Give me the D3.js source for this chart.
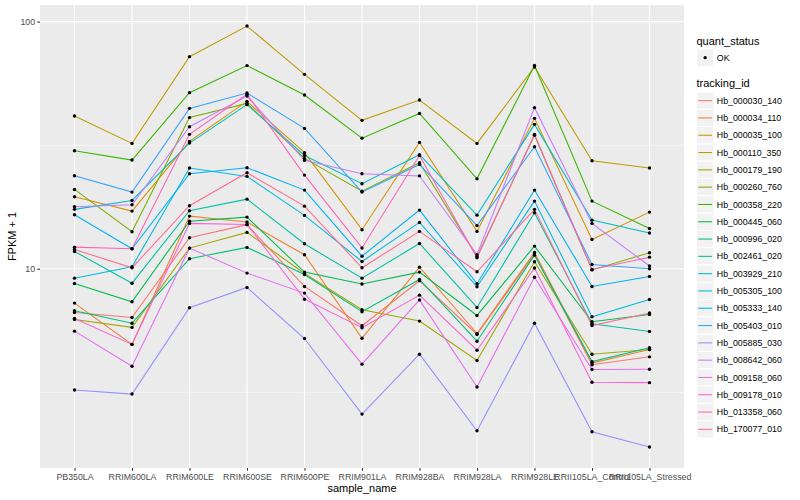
<!DOCTYPE html>
<html>
<head>
<meta charset="utf-8">
<script src="https://cdnjs.cloudflare.com/ajax/libs/d3/7.8.5/d3.min.js"></script>
<style>
  body { margin: 0; background: #ffffff; }
  text { font-family: "Liberation Sans", Arial, sans-serif; }
</style>
</head>
<body>
<div id="chart"></div>
<script>
// x categories and legend entries
var sampleNames = ["PB350LA", "RRIM600LA", "RRIM600LE", "RRIM600SE", "RRIM600PE", "RRIM901LA",
    "RRIM928BA", "RRIM928LA", "RRIM928LE", "RRII105LA_Control", "RRII105LA_Stressed"];
var trackingIds = ["Hb_000030_140", "Hb_000034_110", "Hb_000035_100", "Hb_000110_350", "Hb_000179_190",
    "Hb_000260_760", "Hb_000358_220", "Hb_000445_060", "Hb_000996_020", "Hb_002461_020",
    "Hb_003929_210", "Hb_005305_100", "Hb_005333_140", "Hb_005403_010", "Hb_005885_030",
    "Hb_008642_060", "Hb_009158_060", "Hb_009178_010", "Hb_013358_060", "Hb_170077_010"];
var quantStatus = ["OK"];

// FPKM + 1, one value per sample
var hb_000030_140 = [6.65, 6.35, 13.35, 15.08, 8.48, 5.88, 8.94, 5.42, 11.48, 4.09, 4.40];
var hb_000034_110 = [7.26, 4.94, 16.33, 15.45, 11.39, 5.23, 10.15, 5.47, 11.64, 4.15, 4.71];
var hb_000035_100 = [19.56, 17.11, 32.76, 47.57, 29.48, 14.39, 32.45, 14.16, 40.6, 13.14, 16.95];
var hb_000110_350 = [41.5, 32.16, 72.16, 95.98, 61.18, 39.85, 48.15, 32.16, 65.5, 27.36, 25.55];
var hb_000179_190 = [6.23, 5.79, 12.12, 14.03, 9.57, 6.83, 6.14, 4.25, 10.67, 4.51, 4.71];
var hb_000260_760 = [20.94, 14.12, 40.9, 46.68, 27.96, 20.61, 26.86, 11.19, 34.66, 9.89, 11.61];
var hb_000358_220 = [30.04, 27.53, 51.6, 66.4, 50.45, 33.77, 42.5, 23.11, 66.5, 18.78, 14.54];
var hb_000445_060 = [8.72, 7.35, 15.58, 16.18, 9.69, 8.68, 9.69, 6.47, 12.35, 6.10, 6.53];
var hb_000996_020 = [6.76, 6.02, 10.98, 12.20, 9.48, 6.70, 9.05, 5.09, 11.35, 4.21, 4.79];
var hb_002461_020 = [11.75, 8.74, 17.17, 19.13, 12.62, 9.16, 12.65, 6.97, 16.85, 5.99, 5.57];
var hb_003929_210 = [17.39, 18.90, 32.25, 46.13, 28.74, 22.09, 28.93, 16.48, 38.4, 15.73, 13.96];
var hb_005305_100 = [9.16, 10.19, 25.55, 23.64, 16.44, 10.70, 15.40, 8.46, 18.78, 6.39, 7.51];
var hb_005333_140 = [16.54, 12.05, 24.25, 25.64, 20.81, 11.24, 17.27, 8.70, 20.81, 8.48, 9.31];
var hb_005403_010 = [23.79, 20.42, 44.57, 51.4, 36.98, 20.42, 26.44, 14.95, 31.18, 10.41, 10.0];
var hb_005885_030 = [3.23, 3.11, 6.95, 8.40, 5.22, 2.58, 4.51, 2.21, 6.02, 2.19, 1.90];
var hb_008642_060 = [17.82, 18.16, 37.57, 49.99, 27.45, 24.25, 23.75, 11.40, 44.86, 15.26, 10.26];
var hb_009158_060 = [5.59, 4.03, 12.12, 9.60, 7.97, 4.11, 7.48, 3.32, 9.24, 3.91, 3.92];
var hb_009178_010 = [6.29, 4.94, 15.26, 15.1, 7.53, 5.77, 7.82, 4.68, 10.07, 3.47, 3.46];
var hb_013358_060 = [12.23, 12.05, 34.98, 50.79, 23.93, 12.14, 28.74, 11.08, 34.98, 9.93, 11.14];
var hb_170077_010 = [11.97, 10.09, 17.99, 24.47, 17.92, 10.09, 14.16, 9.72, 17.39, 5.89, 6.62];

var seriesValues = [hb_000030_140, hb_000034_110, hb_000035_100, hb_000110_350, hb_000179_190,
    hb_000260_760, hb_000358_220, hb_000445_060, hb_000996_020, hb_002461_020,
    hb_003929_210, hb_005305_100, hb_005333_140, hb_005403_010, hb_005885_030,
    hb_008642_060, hb_009158_060, hb_009178_010, hb_013358_060, hb_170077_010];

// ggplot default hue palette for 20 groups
var hueColors = ["#F8766D", "#EA8331", "#D89000", "#C09B00", "#A3A500", "#7CAE00", "#39B600",
    "#00BB4E", "#00BF7D", "#00C1A3", "#00BFC4", "#00BAE0", "#00B0F6", "#35A2FF", "#9590FF",
    "#C77CFF", "#E76BF3", "#FA62DB", "#FF62BC", "#FF6C91"];

function draw() {
    var width = 800, height = 500;
    var panel = { left: 40, right: 684, top: 5, bottom: 468 };

    var series = trackingIds.map(function(id, i) {
        return {
            id: id,
            color: hueColors[i],
            points: sampleNames.map(function(s, j) { return { sample: s, value: seriesValues[i][j] }; })
        };
    });

    // log scale with 5% expansion like ggplot
    var all = d3.merge(seriesValues);
    var lo = Math.log10(d3.min(all)), hi = Math.log10(d3.max(all));
    var pad = (hi - lo) * 0.05;

    var x = d3.scalePoint()
        .domain(sampleNames)
        .range([panel.left, panel.right])
        .padding(0.6);
    var y = d3.scaleLog()
        .domain([Math.pow(10, lo - pad), Math.pow(10, hi + pad)])
        .range([panel.bottom, panel.top]);

    var svg = d3.select("#chart")
      .append("svg")
        .attr("width", width)
        .attr("height", height)
        .style("background-color", "#ffffff");

    svg.append("rect")
        .attr("x", panel.left)
        .attr("y", panel.top)
        .attr("width", panel.right - panel.left)
        .attr("height", panel.bottom - panel.top)
        .attr("fill", "#EBEBEB");

    var minorBreaks = [Math.sqrt(10), Math.sqrt(1000)];
    var majorBreaks = [10, 100];

    svg.selectAll("line.minor")
        .data(minorBreaks)
      .enter().append("line")
        .attr("class", "minor")
        .attr("x1", panel.left).attr("x2", panel.right)
        .attr("y1", function(d) { return y(d); })
        .attr("y2", function(d) { return y(d); })
        .attr("stroke", "#ffffff")
        .attr("stroke-width", 0.55);

    svg.selectAll("line.major")
        .data(majorBreaks)
      .enter().append("line")
        .attr("class", "major")
        .attr("x1", panel.left).attr("x2", panel.right)
        .attr("y1", function(d) { return y(d); })
        .attr("y2", function(d) { return y(d); })
        .attr("stroke", "#ffffff")
        .attr("stroke-width", 1.1);

    svg.selectAll("line.vgrid")
        .data(sampleNames)
      .enter().append("line")
        .attr("class", "vgrid")
        .attr("x1", function(d) { return x(d); })
        .attr("x2", function(d) { return x(d); })
        .attr("y1", panel.top).attr("y2", panel.bottom)
        .attr("stroke", "#ffffff")
        .attr("stroke-width", 1.1);

    // axes
    var yAxis = d3.axisLeft(y)
        .tickValues(majorBreaks)
        .tickFormat(d3.format("d"))
        .tickSize(2.75)
        .tickPadding(2.2);
    var gy = svg.append("g")
        .attr("transform", "translate(" + panel.left + ",0)")
        .call(yAxis);

    var xAxis = d3.axisBottom(x)
        .tickSize(2.75)
        .tickPadding(3);
    var gx = svg.append("g")
        .attr("transform", "translate(0," + panel.bottom + ")")
        .call(xAxis);

    [gx, gy].forEach(function(g) {
        g.select(".domain").remove();
        g.selectAll(".tick line").attr("stroke", "#333333").attr("stroke-width", 1.07);
        g.selectAll(".tick text")
            .attr("fill", "#4D4D4D")
            .style("font-size", "8.8px")
            .style("font-family", "'Liberation Sans', Arial, sans-serif");
    });

    svg.append("text")
        .attr("x", (panel.left + panel.right) / 2)
        .attr("y", 492)
        .attr("text-anchor", "middle")
        .style("font-size", "11px")
        .attr("fill", "#000000")
        .text("sample_name");

    svg.append("text")
        .attr("transform", "translate(16," + ((panel.top + panel.bottom) / 2) + ") rotate(-90)")
        .attr("text-anchor", "middle")
        .style("font-size", "11px")
        .attr("fill", "#000000")
        .text("FPKM + 1");

    // lines
    var line = d3.line()
        .x(function(d) { return x(d.sample); })
        .y(function(d) { return y(d.value); });

    svg.selectAll("path.series")
        .data(series)
      .enter().append("path")
        .attr("class", "series")
        .attr("d", function(d) { return line(d.points); })
        .attr("fill", "none")
        .attr("stroke", function(d) { return d.color; })
        .attr("stroke-width", 1.07);

    // points
    svg.selectAll("g.dots")
        .data(series)
      .enter().append("g")
        .attr("class", "dots")
      .selectAll("circle")
        .data(function(d) { return d.points; })
      .enter().append("circle")
        .attr("r", 1.7)
        .attr("cx", function(d) { return x(d.sample); })
        .attr("cy", function(d) { return y(d.value); })
        .attr("fill", "#000000");

    // legends
    var lx = 696.5, keySize = 17.3;
    var legend = svg.append("g");

    legend.append("text")
        .attr("x", lx).attr("y", 44.5)
        .style("font-size", "11px")
        .text("quant_status");

    quantStatus.forEach(function(q, i) {
        var ky = 49 + i * keySize;
        legend.append("rect")
            .attr("x", lx).attr("y", ky)
            .attr("width", keySize).attr("height", keySize)
            .attr("fill", "#F2F2F2").attr("stroke", "#ffffff");
        legend.append("circle")
            .attr("cx", lx + keySize / 2).attr("cy", ky + keySize / 2)
            .attr("r", 1.7).attr("fill", "#000000");
        legend.append("text")
            .attr("x", lx + keySize + 3).attr("y", ky + keySize / 2)
            .attr("dy", "0.35em")
            .style("font-size", "8.8px")
            .text(q);
    });

    legend.append("text")
        .attr("x", lx).attr("y", 87)
        .style("font-size", "11px")
        .text("tracking_id");

    var keys = legend.selectAll("g.key")
        .data(series)
      .enter().append("g")
        .attr("class", "key")
        .attr("transform", function(d, i) { return "translate(" + lx + "," + (92 + i * keySize) + ")"; });
    keys.append("rect")
        .attr("width", keySize).attr("height", keySize)
        .attr("fill", "#F2F2F2").attr("stroke", "#ffffff");
    keys.append("line")
        .attr("x1", 1.7).attr("x2", keySize - 1.7)
        .attr("y1", keySize / 2).attr("y2", keySize / 2)
        .attr("stroke", function(d) { return d.color; })
        .attr("stroke-width", 1.07);
    keys.append("text")
        .attr("x", keySize + 3).attr("y", keySize / 2)
        .attr("dy", "0.35em")
        .style("font-size", "8.8px")
        .text(function(d) { return d.id; });
}

draw();
</script>
</body>
</html>
